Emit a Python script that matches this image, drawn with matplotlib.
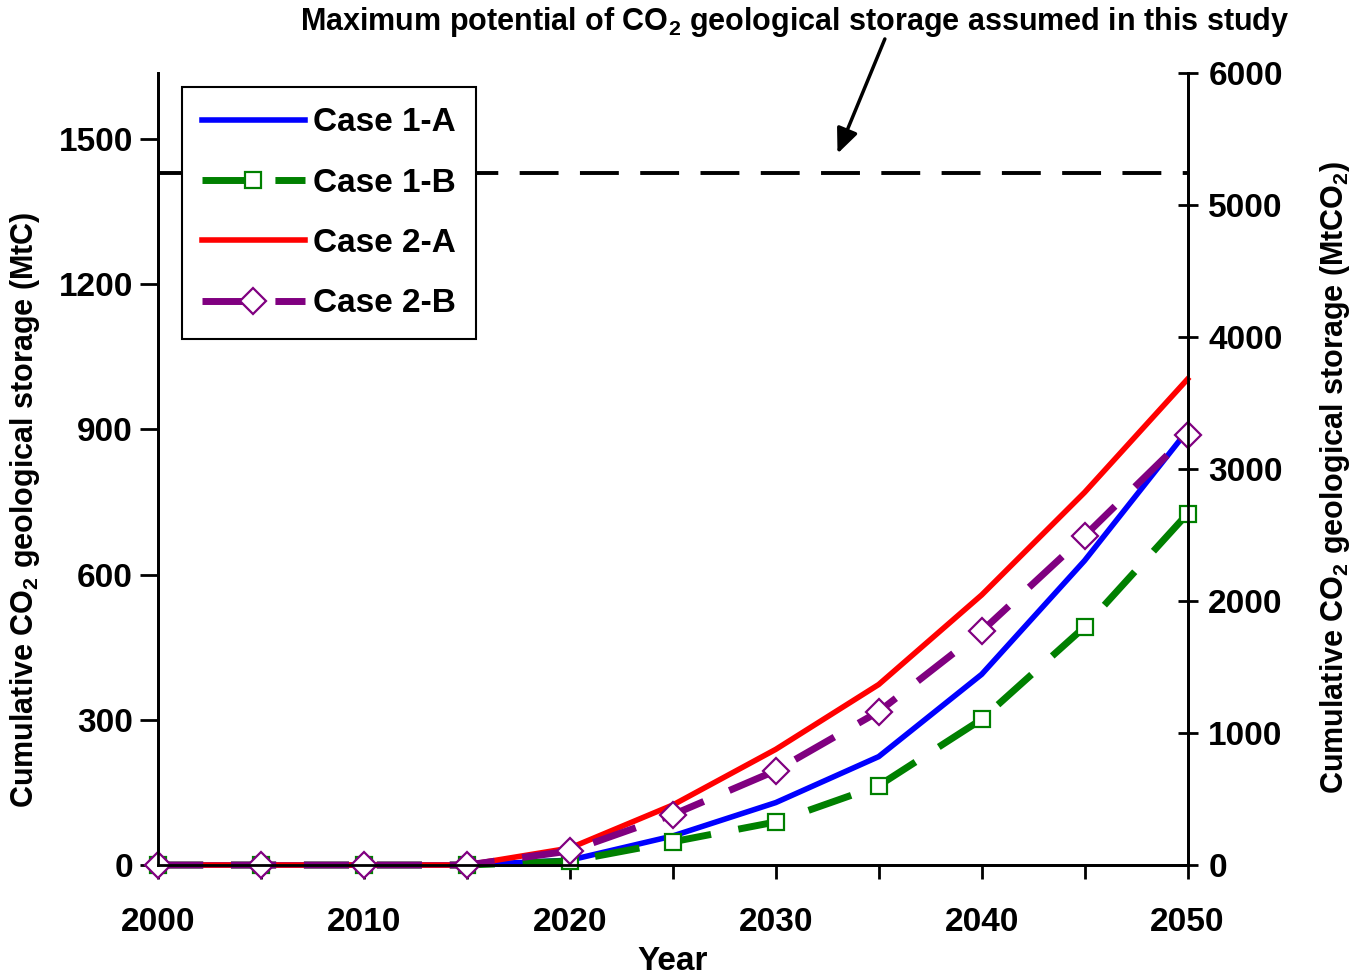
import matplotlib
matplotlib.use('Agg')
import matplotlib.pyplot as plt
from matplotlib.ticker import MultipleLocator

plt.rcParams['font.family'] = ['Liberation Sans', 'DejaVu Sans']
plt.rcParams['font.weight'] = 'bold'
plt.rcParams['mathtext.fontset'] = 'custom'
plt.rcParams['mathtext.bf'] = 'Liberation Sans:bold'
plt.rcParams['mathtext.rm'] = 'Liberation Sans:bold'

years = [2000, 2005, 2010, 2015, 2020, 2025, 2030, 2035, 2040, 2045, 2050]
case_1a = [0, 0, 0, 0, 10, 60, 129, 224, 394, 629, 898]
case_1b = [0, 0, 0, 0, 8, 48, 89, 164, 301, 492, 726]
case_2a = [0, 0, 0, 0, 35, 124, 239, 373, 558, 770, 1004]
case_2b = [0, 0, 0, 0, 29, 104, 195, 317, 483, 680, 888]
max_potential = 1430  # MtC
c_to_co2 = 44 / 12

fig = plt.figure(figsize=(13.51, 9.75), dpi=100)
ax = fig.add_axes([0.117, 0.1128, 0.762, 0.8122])

lw = 4.0
ax.plot(years, case_1a, color='#0000ff', lw=lw, label='Case 1-A', zorder=3,
        clip_on=False)
ax.plot(years, case_1b, color='#008000', lw=lw + 1.0, dashes=(6.5, 4),
        marker='s', ms=12, mfc='white', mec='#008000', mew=1.6,
        label='Case 1-B', zorder=4, clip_on=False)
ax.plot(years, case_2a, color='#ff0000', lw=lw, label='Case 2-A', zorder=5,
        clip_on=False)
ax.plot(years, case_2b, color='#800080', lw=lw + 1.0, dashes=(6.5, 4),
        marker='D', ms=13, mfc='white', mec='#800080', mew=1.6,
        label='Case 2-B', zorder=6, clip_on=False)
ax.axhline(max_potential, color='black', lw=2.8, dashes=(10, 5.5), zorder=2)

ax.set_xlim(2000, 2050)
ax.set_ylim(0, 6000 / c_to_co2)
ax.xaxis.set_major_locator(MultipleLocator(10))
ax.xaxis.set_minor_locator(MultipleLocator(5))
ax.yaxis.set_major_locator(MultipleLocator(300))
for s in ax.spines.values():
    s.set_linewidth(2)
ax.spines['top'].set_visible(False)
ax.tick_params(axis='x', which='both', direction='out', length=10, width=2,
               labelsize=24, pad=20)
ax.tick_params(axis='y', direction='out', length=13, width=2, labelsize=24, pad=5)
ax.set_xlabel('Year', fontsize=24, fontweight='bold', labelpad=6)
ax.set_ylabel('Cumulative CO$_\\mathbf{2}$ geological storage (MtC)',
              fontsize=22, fontweight='bold')
ax.yaxis.set_label_coords(-0.113, 0.448)

ax2 = ax.twinx()
ax2.set_ylim(0, 6000)
ax2.yaxis.set_major_locator(MultipleLocator(1000))
ax2.tick_params(axis='y', direction='inout', length=14, width=2, labelsize=24, pad=8)
ax2.spines['top'].set_visible(False)
for s in ax2.spines.values():
    s.set_linewidth(2)
ax2.set_ylabel('Cumulative CO$_\\mathbf{2}$ geological storage (MtCO$_\\mathbf{2}$)',
               fontsize=22, fontweight='bold', rotation=90)
ax2.yaxis.set_label_coords(1.127, 0.49)

leg = ax.legend(loc='upper left', bbox_to_anchor=(0.023, 0.982), fontsize=24,
                frameon=True, fancybox=False, edgecolor='black', framealpha=1,
                handlelength=3.1, handletextpad=0.25, labelspacing=0.88,
                borderpad=0.6, borderaxespad=0)
leg.get_frame().set_linewidth(1.5)
leg.set_zorder(10)

ax.annotate('', xy=(2033.0, 1470), xytext=(2035.3, 1707),
            arrowprops=dict(arrowstyle='-|>,head_length=1.5,head_width=0.65',
                            color='black', lw=2.5, shrinkA=0, shrinkB=0),
            annotation_clip=False)
fig.text(0.588, 0.977, 'Maximum potential of CO$_\\mathbf{2}$ geological storage assumed in this study',
         ha='center', va='center', fontsize=22, fontweight='bold')

fig.savefig('out.png', dpi=100)
